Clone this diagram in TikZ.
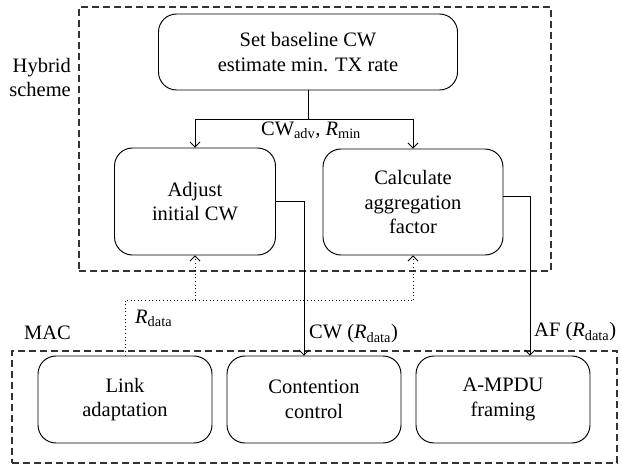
\documentclass[tikz,border=0pt]{standalone}
\usepackage{fontspec}
\setmainfont{Liberation Serif}
\usetikzlibrary{arrows.meta}
\begin{document}
\begin{tikzpicture}[x=1pt,y=-1pt,
  font=\fontsize{20.5}{24.5}\selectfont,
  proc/.style={draw, line width=0.95pt, rounded corners=18pt, align=center, inner sep=0pt},
  group/.style={draw=black!80, line width=1.2pt, dash pattern=on 7pt off 4pt, inner sep=0pt},
  tip/.style={-{Straight Barb[length=5pt,width=10pt,line width=0.8pt]}},
  flow/.style={line width=0.95pt},
  feedback/.style={line width=1pt, dash pattern=on 1pt off 2.6pt}]
\useasboundingbox (0,0) rectangle (622,468);

% group frames
\node[group, minimum width=472pt, minimum height=264pt] (hyb) at (315,139) {};
\node[group, minimum width=605pt, minimum height=112pt] (mac) at (314.5,407) {};
\node[align=right, anchor=east, inner sep=0pt] (hyblbl) at (71,77.5) {Hybrid\\scheme};
\node[inner sep=0pt] (maclbl) at (47.5,333) {MAC};

% hybrid scheme blocks
\node[proc, minimum width=299pt, minimum height=76pt] (top) at (308,52)
  {Set baseline CW\\estimate min. TX rate};
\node[proc, minimum width=161pt, minimum height=107pt] (adj) at (195,201.5)
  {Adjust\\initial CW};
\node[proc, minimum width=180pt, minimum height=106pt] (calc) at (413,202)
  {Calculate\\aggregation\\factor};

% MAC blocks
\node[proc, minimum width=174pt, minimum height=87pt] (link) at (125,399.5)
  {Link\\adaptation};
\node[proc, minimum width=174pt, minimum height=87pt] (cont) at (314,399.5)
  {Contention\\control};
\node[proc, minimum width=174pt, minimum height=87pt] (ampdu) at (503,399.5)
  {A-MPDU\\framing};

% split from the baseline block
\coordinate (sp) at (308,119);
\draw[flow] (top.south) -- (sp);
\draw[flow, tip] (sp) -| (adj.north);
\draw[flow, tip] (sp) -| (calc.north);
\node[anchor=north, inner sep=0pt] (advlbl) at (311,122)
  {CW\textsubscript{adv}, \textit{R}\textsubscript{min}};

% outputs to the MAC blocks
\draw[flow, tip] (adj.east) -| ([xshift=-10pt]cont.north);
\draw[flow, tip] ([yshift=6pt]calc.east) -| ([xshift=27pt]ampdu.north);
\node[anchor=west, inner sep=0pt] (cwlbl) at (309,334)
  {CW (\textit{R}\textsubscript{data})};
\node[anchor=west, inner sep=0pt] (aflbl) at (534,332)
  {AF (\textit{R}\textsubscript{data})};

% rate feedback from link adaptation
\coordinate (fb) at (125,300);
\draw[feedback] (link.north) -- (fb) -- (calc.south |- fb);
\draw[feedback, tip] (adj.south |- fb) -- (adj.south);
\draw[feedback, tip] (calc.south |- fb) -- (calc.south);
\node[anchor=west, inner sep=0pt] (rlbl) at (135,318)
  {\textit{R}\textsubscript{data}};
\end{tikzpicture}
\end{document}
